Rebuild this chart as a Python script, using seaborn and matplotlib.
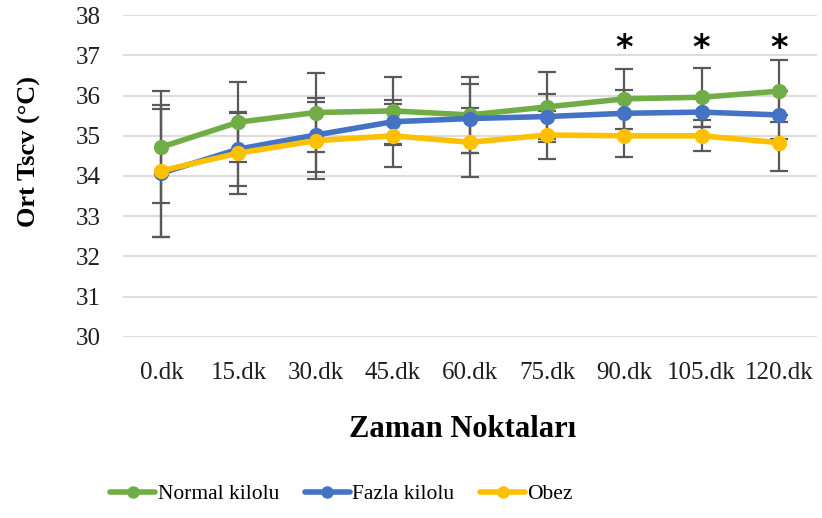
import matplotlib
matplotlib.use("Agg")
import matplotlib.pyplot as plt
import seaborn as sns
import pandas as pd
import numpy as np

# Time points and group means / standard deviations of mean Tscv (°C)
times = ["0.dk", "15.dk", "30.dk", "45.dk", "60.dk", "75.dk", "90.dk", "105.dk", "120.dk"]
groups = ["Normal kilolu", "Fazla kilolu", "Obez"]

normal = [34.72, 35.34, 35.58, 35.62, 35.52, 35.72, 35.92, 35.96, 36.11]
normal_sd = [1.40, 0.99, 0.98, 0.85, 0.94, 0.87, 0.75, 0.73, 0.77]
fazla = [34.07, 34.67, 35.02, 35.35, 35.43, 35.48, 35.56, 35.59, 35.52]
fazla_sd = [1.60, 0.93, 0.91, 0.55, 0.86, 0.57, 0.58, 0.38, 0.60]
obez = [34.13, 34.57, 34.88, 35.00, 34.84, 35.02, 35.00, 35.00, 34.83]
obez_sd = [1.64, 1.01, 0.95, 0.78, 0.86, 0.60, 0.52, 0.39, 0.70]

# time points with a significant group difference
significant = ["90.dk", "105.dk", "120.dk"]

colors = ["#70AD47", "#4472C4", "#FFC000"]

sns.set_theme(style="white")
plt.rcParams["font.family"] = ["Liberation Serif", "DejaVu Serif"]

means = [normal, fazla, obez]
sds = [normal_sd, fazla_sd, obez_sd]
df = pd.concat(
    [pd.DataFrame({"pos": np.arange(len(times)), "zaman": times, "grup": g, "deger": m})
     for g, m in zip(groups, means)],
    ignore_index=True,
)

fig = plt.figure(figsize=(8.22, 5.18), dpi=100)
ax = fig.add_axes([0.1493, 0.35, 0.8450, 0.6205])

# error bars underneath the lines
for m, s in zip(means, sds):
    ax.errorbar(np.arange(len(times)), m, yerr=s, fmt="none", ecolor="#595959",
                elinewidth=1.6, capsize=6.5, capthick=1.6, zorder=1.5)

sns.lineplot(data=df, x="pos", y="deger", hue="grup", hue_order=groups,
             palette=colors, marker="o", markersize=11, markeredgewidth=0,
             linewidth=4.0, ax=ax, legend=False, zorder=3)

for t in significant:
    ax.text(times.index(t), 37.17, "*", ha="center", va="center",
            fontsize=24, fontweight="bold", color="black",
            family=["DejaVu Sans"])

ax.set_xlim(-0.5, len(times) - 0.5)
ax.set_ylim(30, 38)
ax.set_yticks(range(30, 39))
ax.set_xticks(range(len(times)), times)
ax.yaxis.grid(True, color="#d9d9d9", linewidth=1.3)
ax.set_axisbelow(True)
for sp in ax.spines.values():
    sp.set_visible(False)
ax.tick_params(axis="both", length=0, labelsize=18, colors="#1f1f1f")
ax.tick_params(axis="y", pad=16)
ax.tick_params(axis="x", pad=18)

ax.set_xlabel("Zaman Noktaları", fontsize=22, fontweight="bold", color="black")
ax.set_ylabel("Ort Tscv (°C)", fontsize=19, fontweight="bold", color="black")
ax.xaxis.set_label_coords(0.49, -0.29)
ax.xaxis.label.set_va("center")
ax.yaxis.set_label_coords(-0.134, 0.575)
ax.yaxis.label.set_va("center")

handles = [plt.Line2D([0], [0], color=c, linewidth=4.0, marker="o",
                      markersize=9, markeredgewidth=0) for c in colors]
fig.legend(handles, groups, loc="center", bbox_to_anchor=(0.4155, 0.046),
           ncol=3, frameon=False, fontsize=15.5, handlelength=2.1,
           handletextpad=0.1, columnspacing=1.2, labelcolor="black")

fig.savefig("out.png", dpi=100, facecolor="white")
